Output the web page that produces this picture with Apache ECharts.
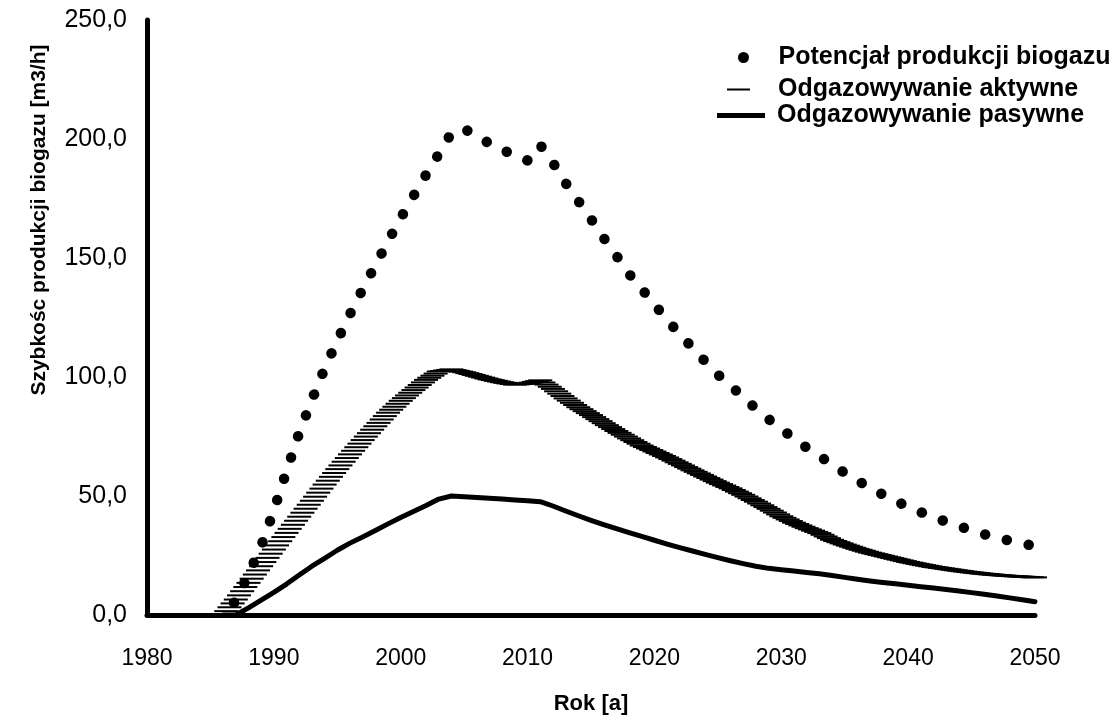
<!DOCTYPE html>
<html>
<head>
<meta charset="utf-8">
<script src="https://cdn.jsdelivr.net/npm/echarts@6/dist/echarts.min.js"></script>
<style>
  html, body { margin: 0; padding: 0; background: #fff; }
  #chart { width: 1114px; height: 721px; }
</style>
</head>
<body>
<div id="chart"></div>
<script>
// dane (rok -> m3/h)
const years = [1986, 1987, 1988, 1989, 1990, 1991, 1992, 1993, 1994, 1995,
  1996, 1997, 1998, 1999, 2000, 2001, 2002, 2003, 2004, 2005,
  2006, 2007, 2008, 2009, 2010, 2011, 2012, 2013, 2014, 2015,
  2016, 2017, 2018, 2019, 2020, 2021, 2022, 2023, 2024, 2025,
  2026, 2027, 2028, 2029, 2030, 2031, 2032, 2033, 2034, 2035,
  2036, 2037, 2038, 2039, 2040, 2041, 2042, 2043, 2044, 2045,
  2046, 2047, 2048, 2049, 2050]

const potential = [0, 6, 17, 29, 44, 60.5, 76.5, 90.4, 103.6, 115.3,
  126.4, 136.9, 147, 157, 166.8, 176, 185, 193.7, 202.5, 204.3,
  201.2, 198.1, 195.5, 193, 191, 197.5, 190, 181.5, 174, 166.4,
  158.4, 151, 143.3, 137, 130.5, 124, 118, 112.3, 106.5, 101,
  96.4, 91.5, 86.7, 82.3, 78.2, 74.2, 70.3, 66.8, 63.3, 59.7,
  56.5, 53.4, 50.6, 48, 45.4, 43.2, 41.1, 39.2, 37.3, 35.6,
  33.9, 32.6, 31.2, 30, 29]

const active = [0, 6.5, 13.5, 20.5, 27.5, 34.5, 41.3, 48, 54.8, 61.3,
  67.5, 73.5, 79.3, 85, 90, 94.5, 98.8, 102.3, 103.2, 102,
  100.5, 99, 97.8, 96.8, 97.3, 98.6, 95, 91, 87.3, 84,
  80.6, 77.3, 74.2, 71.2, 68.7, 66.2, 63.5, 60.8, 58.2, 55.6,
  53.2, 50.5, 47.6, 44.6, 41.5, 38.8, 36.5, 34.4, 31.6, 29.6,
  27.8, 26.2, 24.9, 23.6, 22.3, 21.2, 20.2, 19.4, 18.6, 17.9,
  17.3, 16.8, 16.4, 16.1, 15.8]

const passive = [0, 0, 3, 6.3, 9.5, 13, 16.8, 20.5, 23.8, 27.2,
  30.2, 32.8, 35.5, 38.3, 41, 43.5, 46, 48.7, 50, 49.7,
  49.4, 49.1, 48.7, 48.3, 48, 47.6, 45.8, 43.7, 41.7, 39.8,
  38, 36.3, 34.6, 33, 31.4, 29.8, 28.3, 26.9, 25.5, 24.1,
  22.8, 21.6, 20.5, 19.6, 19, 18.5, 17.9, 17.3, 16.6, 15.8,
  15, 14.3, 13.7, 13.1, 12.5, 11.9, 11.3, 10.7, 10.1, 9.4,
  8.7, 8, 7.2, 6.4, 5.6]

const seriesNames = ['Potencjał produkcji biogazu', 'Odgazowywanie aktywne', 'Odgazowywanie pasywne']

const FONT = "'Liberation Sans', Arial, sans-serif"
const FONT_NARROW = "'Liberation Sans Narrow', 'Arial Narrow', 'Liberation Sans', Arial, sans-serif"

// seria "aktywne" byla rysowana poziomymi kreskami (markery), stad kreskowanie
const DASH_W = 24
const DASH_H = 2
const DASHES_PER_YEAR = 4

function renderActive(params, api) {
  const i = params.dataIndex
  const p0 = api.coord([years[i], active[i]])
  const p1 = i + 1 < years.length ? api.coord([years[i + 1], active[i + 1]]) : null
  const steps = p1 ? DASHES_PER_YEAR : 1
  const children = []
  for (let k = 0; k < steps; k++) {
    const t = k / steps
    const x = p1 ? p0[0] + (p1[0] - p0[0]) * t : p0[0]
    const y = p1 ? p0[1] + (p1[1] - p0[1]) * t : p0[1]
    children.push({
      type: 'rect',
      shape: { x: x - DASH_W / 2, y: y - DASH_H / 2, width: DASH_W, height: DASH_H },
      style: { fill: '#000' }
    })
  }
  return { type: 'group', children }
}

const legendBase = {
  orient: 'vertical',
  padding: 0,
  textStyle: { fontFamily: FONT, fontWeight: 'bold', fontSize: 25, color: '#000' }
}

const option = {
  animation: false,
  backgroundColor: '#fff',
  color: ['#000', '#000', '#000'],
  grid: { left: 147, right: 79, top: 20, bottom: 106, containLabel: false, outerBoundsMode: 'none' },
  legend: [
    Object.assign({}, legendBase, {
      data: [{ name: seriesNames[0], icon: 'circle' }],
      left: 738, top: 45, itemWidth: 60, itemHeight: 11
    }),
    Object.assign({}, legendBase, {
      data: [{ name: seriesNames[1], icon: 'path://M0,0L23,0L23,2L0,2Z' }],
      left: 727, top: 77, itemWidth: 69, itemHeight: 2
    }),
    Object.assign({}, legendBase, {
      data: [{ name: seriesNames[2], icon: 'path://M0,0L48,0L48,5L0,5Z' }],
      left: 717, top: 103, itemWidth: 62, itemHeight: 5
    })
  ],
  xAxis: {
    type: 'value',
    min: 1980,
    max: 2050,
    interval: 10,
    name: 'Rok [a]',
    nameLocation: 'middle',
    nameGap: 78,
    nameTextStyle: { fontFamily: FONT_NARROW, fontWeight: 'bold', fontSize: 22, color: '#000' },
    axisLine: { lineStyle: { color: '#000', width: 5 } },
    axisTick: { show: false },
    splitLine: { show: false },
    axisLabel: {
      margin: 32,
      fontFamily: FONT_NARROW,
      fontSize: 23,
      color: '#000',
      formatter: v => String(v)
    }
  },
  yAxis: {
    type: 'value',
    min: 0,
    max: 250,
    interval: 50,
    name: 'Szybkośc produkcji biogazu [m3/h]',
    nameLocation: 'middle',
    nameRotate: 90,
    nameGap: 97,
    nameTextStyle: { fontFamily: FONT, fontWeight: 'bold', fontSize: 21, color: '#000', padding: [0, 0, 0, 195] },
    axisLine: { show: true, lineStyle: { color: '#000', width: 5 } },
    axisTick: { show: false },
    splitLine: { show: false },
    axisLabel: {
      margin: 20,
      fontFamily: FONT,
      fontSize: 25,
      color: '#000',
      formatter: v => v.toFixed(1).replace('.', ',')
    }
  },
  series: [
    {
      name: seriesNames[1],
      type: 'custom',
      z: 2,
      itemStyle: { color: '#000' },
      encode: { x: 0, y: 1 },
      data: years.map((y, i) => [y, active[i]]),
      renderItem: renderActive
    },
    {
      name: seriesNames[2],
      type: 'line',
      z: 3,
      symbol: 'none',
      itemStyle: { color: '#000' },
      lineStyle: { color: '#000', width: 5, join: 'round', cap: 'round' },
      data: years.map((y, i) => [y, passive[i]])
    },
    {
      name: seriesNames[0],
      type: 'line',
      z: 4,
      symbol: 'none',
      itemStyle: { color: '#000' },
      // linia kropkowana (okragle kropki)
      lineStyle: { color: '#000', width: 10.5, type: [0.1, 22.25], dashOffset: 6, cap: 'round' },
      data: years.map((y, i) => [y, potential[i]])
    }
  ]
}

const chart = echarts.init(document.getElementById('chart'))
chart.setOption(option)
</script>
</body>
</html>
